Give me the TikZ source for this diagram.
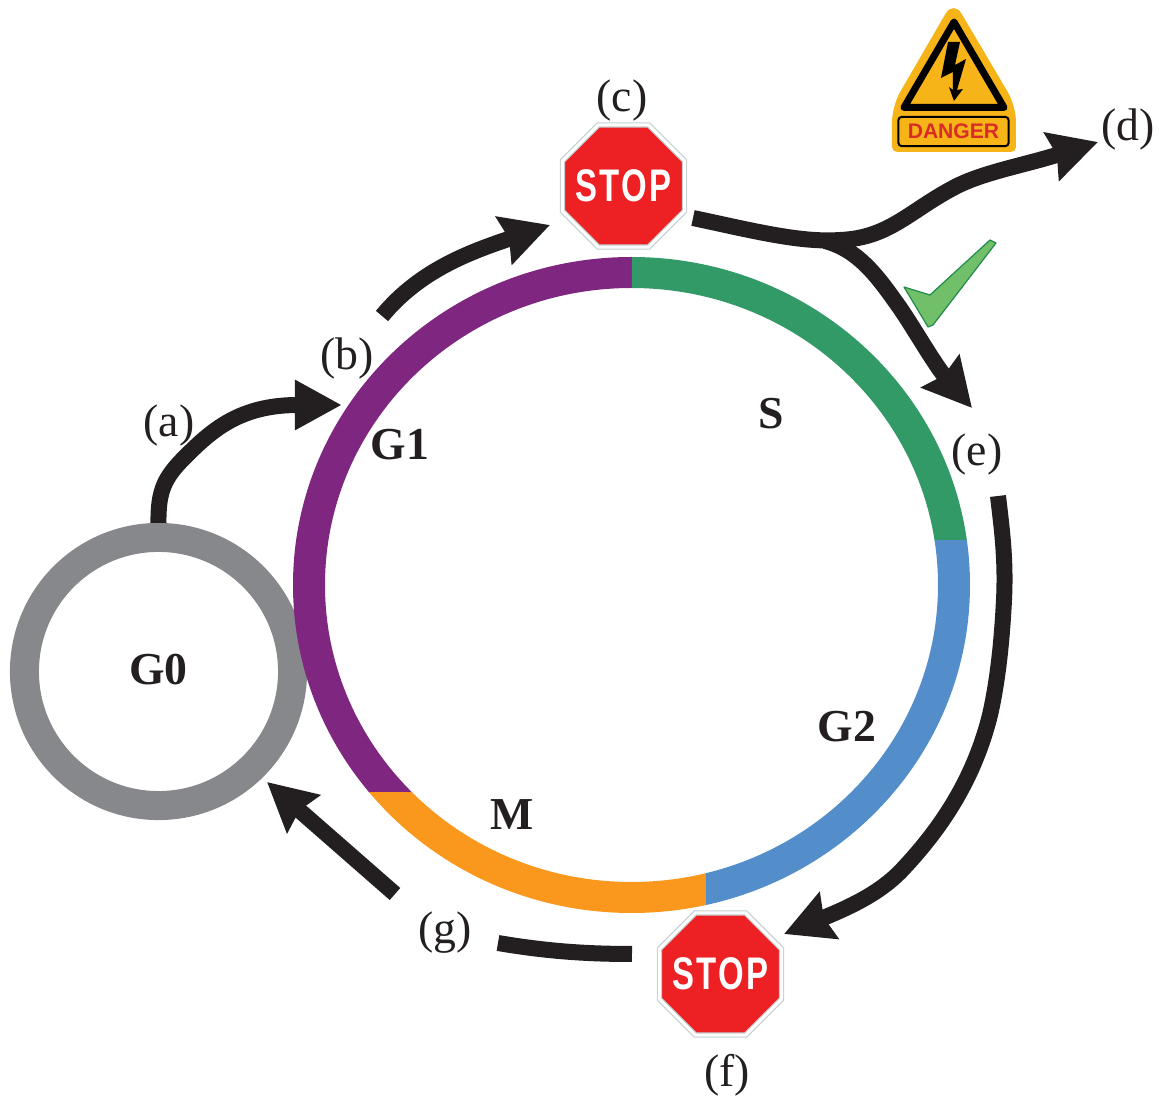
\documentclass[tikz,border=0pt]{standalone}
\usepackage{fontspec}
\setmainfont{Liberation Serif}
\newfontfamily\signfont{Liberation Sans}
\newfontfamily\stopfont[LetterSpace=7]{Liberation Sans}
\usetikzlibrary{arrows.meta,shapes.geometric}
\definecolor{inkblack}{HTML}{231F20}
\definecolor{ringgray}{HTML}{87888C}
\definecolor{ringpurple}{HTML}{7F2780}
\definecolor{ringgreen}{HTML}{329A66}
\definecolor{ringblue}{HTML}{538ECB}
\definecolor{ringorange}{HTML}{F9981D}
\definecolor{stopred}{HTML}{ED2024}
\definecolor{stoprim}{HTML}{C5CFCF}
\definecolor{dangeryellow}{HTML}{F6B418}
\definecolor{dangerred}{HTML}{D92B27}
\definecolor{tickfill}{HTML}{72BF6A}
\definecolor{tickline}{HTML}{1F8A4C}
\tikzset{
  letterlabel/.style={text=inkblack,font=\fontsize{13}{15}\selectfont},
  phaselabel/.style={text=inkblack,font=\bfseries\fontsize{13}{15}\selectfont},
  flowline/.style={draw=inkblack,line width=.16cm},
  flowarrow/.style={flowline,-{Stealth[length=.48cm,width=.49cm,inset=.05cm]}},
  stopsign/.style={regular polygon,regular polygon sides=8,minimum size=1.32cm,inner sep=0pt,
    fill=stopred,draw=stoprim,double=white,double distance=.03cm,line width=.012cm,
    text=white,font=\stopfont\bfseries\fontsize{13}{15}\selectfont},
  dangerbox/.style={draw=black,line width=.02cm,rounded corners=.03cm,minimum width=1.1cm,
    minimum height=.29cm,inner sep=0pt,text=dangerred,font=\signfont\bfseries\fontsize{6}{7}\selectfont}
}
\begin{document}
\begin{tikzpicture}[x=.01cm,y=-.01cm]
  \useasboundingbox (0,0) rectangle (1159,1097);
  \node[phaselabel,circle,draw=ringgray,line width=.29cm,minimum size=2.68cm,inner sep=0pt] (g0) at (158.5,671.5) {\raisebox{.05cm}{G0}};
  % the big ring, cut into its four parts
  \coordinate (ringc) at (631.5,585);
  \begin{scope}
    \clip (0,0) rectangle (632,793);
    \fill[ringpurple,even odd rule] (ringc) ellipse [x radius=338.5,y radius=328] (ringc) ellipse [x radius=306.5,y radius=297];
  \end{scope}
  \begin{scope}
    \clip (632,0) rectangle (1159,541);
    \fill[ringgreen,even odd rule] (ringc) ellipse [x radius=338.5,y radius=328] (ringc) ellipse [x radius=306.5,y radius=297];
  \end{scope}
  \begin{scope}
    \clip (706,541) rectangle (1159,1097);
    \fill[ringblue,even odd rule] (ringc) ellipse [x radius=338.5,y radius=328] (ringc) ellipse [x radius=306.5,y radius=297];
  \end{scope}
  \begin{scope}
    \clip (0,793) rectangle (706,1097);
    \fill[ringorange,even odd rule] (ringc) ellipse [x radius=338.5,y radius=328] (ringc) ellipse [x radius=306.5,y radius=297];
  \end{scope}
  \node[phaselabel] (g1) at (400,445) {G1};
  \node[phaselabel] (s) at (771,414) {S};
  \node[phaselabel] (g2) at (847,727) {G2};
  \node[phaselabel] (m) at (512,815) {M};
  \node[letterlabel] (a) at (169,426) {(a)};
  \node[letterlabel] (b) at (347,359) {(b)};
  \node[letterlabel] (c) at (622,101) {(c)};
  \node[letterlabel] (d) at (1128,130) {(d)};
  \node[letterlabel] (e) at (977,455) {(e)};
  \node[letterlabel] (f) at (727,1075) {(f)};
  \node[letterlabel] (g) at (445,933) {(g)};
  \node[stopsign] (stopc) at (623.5,186) {\makebox[0pt]{\scalebox{.72}[1]{STOP}}};
  \node[stopsign] (stopf) at (720.5,974) {\makebox[0pt]{\scalebox{.72}[1]{STOP}}};
  % danger sign
  \fill[dangeryellow,rounded corners=.16cm] (953.5,0) -- (1016,106) [rounded corners=.05cm] -- (1016,152) -- (892,152) [rounded corners=.16cm] -- (892,106) -- cycle;
  \draw[black,line width=.07cm,line join=round] (954,22) -- (1004,107.5) -- (904,107.5) -- cycle;
  \fill[black] (948,42) -- (960,42) -- (955,65) -- (966,59) -- (957,90) -- (963,89) -- (954,101) -- (949,87) -- (953,90) -- (953,72) -- (941,78) -- cycle;
  \node[dangerbox] (danger) at (953.5,131.5) {DANGER};
  % tick
  \draw[fill=tickfill,draw=tickline,line width=.012cm,line join=round] (904,287) -- (930,295) -- (990,240) -- (996,243) -- (933,325) -- (928,327) -- cycle;
  % free ends of the arrows
  \coordinate (tipb) at (342,405);
  \coordinate (startc) at (382,316);
  \coordinate (tipc) at (550,225);
  \coordinate (startd) at (693,218);
  \coordinate (fork) at (825,241);
  \coordinate (tipd) at (1098,142);
  \coordinate (tipe) at (972,408);
  \coordinate (startf) at (998,496);
  \coordinate (tipf) at (784,934);
  \coordinate (startg) at (632,954);
  \coordinate (endg) at (498,943);
  \coordinate (startz) at (395,894);
  \coordinate (tipz) at (267,782);
  \draw[flowline,-{Triangle[length=.47cm,width=.47cm]}] (g0.north) .. controls (158,490) and (165,477) .. (185,457) .. controls (212,430) and (240,405) .. (tipb);
  \draw[flowarrow] (startc) .. controls (420,270) and (470,252) .. (tipc);
  \draw[flowarrow] (startd) .. controls (750,230) and (800,243) .. (840,240) .. controls (890,238) and (910,210) .. (957,186) .. controls (985,172) and (1025,165) .. (tipd);
  \draw[flowarrow] (fork) .. controls (860,250) and (880,280) .. (900,308) .. controls (915,330) and (935,365) .. (tipe);
  \draw[flowarrow] (startf) .. controls (1002,530) and (1006,560) .. (1004,600) .. controls (1002,640) and (998,680) .. (990,715) .. controls (975,775) and (945,825) .. (900,872) .. controls (880,892) and (855,905) .. (tipf);
  \draw[flowline] (startg) .. controls (585,954) and (545,951) .. (endg);
  \draw[flowarrow] (startz) -- (tipz);
\end{tikzpicture}
\end{document}
